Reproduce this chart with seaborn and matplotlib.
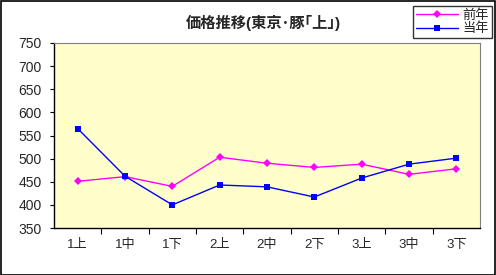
import matplotlib
matplotlib.use("Agg")
import matplotlib.pyplot as plt
import seaborn as sns
import pandas as pd
from matplotlib.ticker import FixedLocator

categories = ["1上", "1中", "1下", "2上", "2中", "2下", "3上", "3中", "3下"]
prev_year = [451, 461, 440, 503, 490, 481, 488, 466, 478]
this_year = [565, 462, 400, 443, 439, 417, 458, 488, 501]
series_names = ["前年", "当年"]
y_ticks = [350, 400, 450, 500, 550, 600, 650, 700, 750]

sns.set_theme(style="white")
plt.rcParams['font.family'] = ['Liberation Sans', 'Noto Sans CJK JP', 'DejaVu Sans']

df = pd.DataFrame({
    "cat": categories * 2,
    "x": list(range(len(categories))) * 2,
    "value": prev_year + this_year,
    "series": [series_names[0]] * len(categories) + [series_names[1]] * len(categories),
})

W, H = 496, 275
fig = plt.figure(figsize=(W / 100, H / 100), dpi=100)
fig.patch.set_facecolor("white")
ax = fig.add_axes([54 / W, (H - 228) / H, (480 - 54) / W, (228 - 43) / H])
ax.set_facecolor("#FFFFCC")

sns.lineplot(data=df, x="x", y="value", hue="series", style="series",
             palette={"前年": "#FF00FF", "当年": "#0000FF"},
             markers={"前年": "D", "当年": "s"}, dashes=False,
             markersize=4.5, linewidth=1.0, markeredgewidth=0, ax=ax)

ax.set_xlim(-0.5, len(categories) - 0.5)
ax.set_ylim(350, 750)
ax.set_yticks(y_ticks)
ax.set_xticks(range(len(categories)))
ax.set_xticklabels(categories)
ax.xaxis.set_minor_locator(FixedLocator([i + 0.5 for i in range(len(categories) - 1)]))
ax.tick_params(axis="x", which="major", length=0, labelsize=9.5, pad=8)
ax.tick_params(axis="x", which="minor", length=4, width=0.8, color="black", direction="out", bottom=True)
ax.tick_params(axis="y", length=3, width=0.8, color="black", direction="out", left=True, labelsize=10, pad=6)
ax.set_xlabel("")
ax.set_ylabel("")

for s in ["left", "bottom"]:
    ax.spines[s].set_color("black")
    ax.spines[s].set_linewidth(1.0)
for s in ["top", "right"]:
    ax.spines[s].set_color("#808080")
    ax.spines[s].set_linewidth(0.8)

fig.text(263 / W, 1 - 23 / H, "価格推移(東京･豚｢上｣)", ha="center", va="center",
         fontsize=11, fontweight="bold")

handles, labels = ax.get_legend_handles_labels()
leg = fig.legend(handles, labels, loc="upper right", bbox_to_anchor=(492 / W, 1 - 6 / H),
                 frameon=True, fancybox=False, edgecolor="black", fontsize=9.5,
                 handlelength=3.2, borderpad=0.25, labelspacing=0.05, handletextpad=0.3,
                 borderaxespad=0)
leg.get_frame().set_linewidth(1.0)
ax.get_legend().remove()

border = plt.Rectangle((0.5 / W, 0.5 / H), 1 - 1.5 / W, 1 - 1.5 / H, transform=fig.transFigure,
                       fill=False, edgecolor="black", linewidth=1.2)
fig.add_artist(border)

fig.savefig("out.png", dpi=100)
